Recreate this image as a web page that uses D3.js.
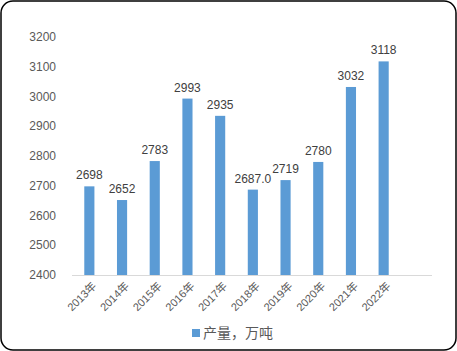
<!DOCTYPE html>
<html>
<head>
<meta charset="utf-8">
<script src="https://cdn.jsdelivr.net/npm/d3@7"></script>
<style>
  body { margin: 0; background: #fff; }
  text { font-family: "Liberation Sans", "Noto Sans CJK SC", sans-serif; }
</style>
</head>
<body>
<div id="chart"></div>
<script>
// data
var years = ["2013年", "2014年", "2015年", "2016年", "2017年", "2018年", "2019年", "2020年", "2021年", "2022年"];
var output = [2698, 2652, 2783, 2993, 2935, 2687, 2719, 2780, 3032, 3118];
var valueLabels = ["2698", "2652", "2783", "2993", "2935", "2687.0", "2719", "2780", "3032", "3118"];
var yTicks = [2400, 2500, 2600, 2700, 2800, 2900, 3000, 3100, 3200];
var seriesName = "产量，万吨";

var width = 457, height = 351;

var svg = d3.select("#chart").append("svg")
  .attr("width", width)
  .attr("height", height);

// outer rounded frame
svg.append("rect")
  .attr("x", 1).attr("y", 1)
  .attr("width", width - 2).attr("height", height - 2)
  .attr("rx", 12)
  .attr("fill", "#fff")
  .attr("stroke", "#000")
  .attr("stroke-width", 1.5);

var x = d3.scaleBand()
  .domain(years)
  .range([73, 400])
  .paddingInner(0.69)
  .paddingOuter(0.345);

var y = d3.scaleLinear()
  .domain([2400, 3200])
  .range([275, 37]);

// y tick labels (no axis line)
svg.selectAll(".ytick")
  .data(yTicks)
  .enter()
  .append("text")
  .attr("class", "ytick")
  .attr("x", 56)
  .attr("y", function(d) { return y(d); })
  .attr("dy", "0.35em")
  .attr("text-anchor", "end")
  .attr("fill", "#595959")
  .style("font-size", "12px")
  .text(function(d) { return d; });

// bars
svg.selectAll(".bar")
  .data(output)
  .enter()
  .append("rect")
  .attr("class", "bar")
  .attr("x", function(d, i) { return x(years[i]); })
  .attr("y", function(d) { return y(d); })
  .attr("width", x.bandwidth())
  .attr("height", function(d) { return y(2400) - y(d); })
  .attr("fill", "#5b9bd5");

// category axis line
svg.append("line")
  .attr("x1", 72).attr("x2", 432)
  .attr("y1", y(2400) + 0.5).attr("y2", y(2400) + 0.5)
  .attr("stroke", "#d9d9d9")
  .attr("stroke-width", 1);

// value labels
svg.selectAll(".vlabel")
  .data(output)
  .enter()
  .append("text")
  .attr("class", "vlabel")
  .attr("x", function(d, i) { return x(years[i]) + x.bandwidth() / 2; })
  .attr("y", function(d) { return y(d) - 7; })
  .attr("text-anchor", "middle")
  .attr("fill", "#404040")
  .style("font-size", "12px")
  .text(function(d, i) { return valueLabels[i]; });

// rotated x labels
svg.selectAll(".xlabel")
  .data(years)
  .enter()
  .append("text")
  .attr("class", "xlabel")
  .attr("transform", function(d) {
    return "translate(" + (x(d) + x.bandwidth() / 2 + 5) + "," + 284 + ") rotate(-45)";
  })
  .attr("text-anchor", "end")
  .attr("dy", "0.35em")
  .attr("fill", "#595959")
  .style("font-size", "11px")
  .text(function(d) { return d; });

// legend
svg.append("rect")
  .attr("x", 192).attr("y", 329)
  .attr("width", 8).attr("height", 8)
  .attr("fill", "#5b9bd5");

svg.append("text")
  .attr("x", 203).attr("y", 333)
  .attr("dy", "0.35em")
  .attr("fill", "#595959")
  .style("font-size", "14px")
  .text(seriesName);
</script>
</body>
</html>
